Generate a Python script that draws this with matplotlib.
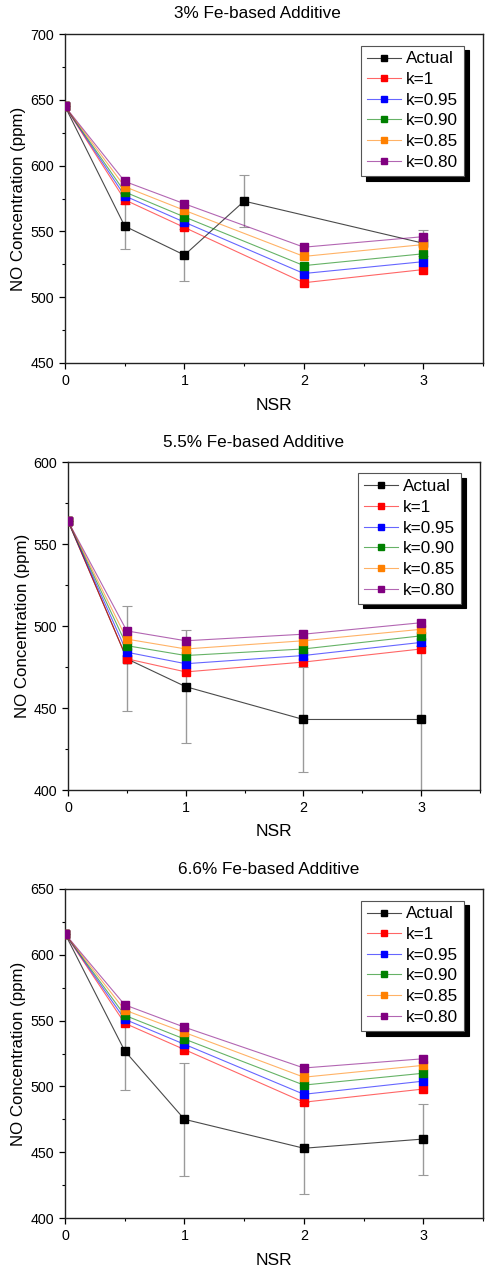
import matplotlib
matplotlib.use("Agg")
import matplotlib.pyplot as plt
from matplotlib.colors import to_rgba
from matplotlib.ticker import MultipleLocator

plt.rcParams["font.family"] = ["Liberation Sans", "DejaVu Sans"]

# NSR positions
nsr_model = [0, 0.5, 1, 2, 3]

# Panel 1: 3% Fe-based additive
p1_actual_x = [0, 0.5, 1, 1.5, 3]
p1_actual = [645, 554, 532, 573, 541]
p1_actual_err = [0, 17, 20, 20, 10]
p1_k100 = [645, 574, 553, 511, 521]
p1_k095 = [645, 577, 557, 518, 527]
p1_k090 = [645, 580, 561, 524, 533]
p1_k085 = [645, 584, 566, 531, 540]
p1_k080 = [645, 588, 571, 538, 546]

# Panel 2: 5.5% Fe-based additive
p2_actual_x = [0, 0.5, 1, 2, 3]
p2_actual = [564, 480, 463, 443, 443]
p2_actual_err = [0, 32, 34.5, 32, 45]
p2_k100 = [564, 480, 472, 478, 486]
p2_k095 = [564, 484, 477, 482, 490]
p2_k090 = [564, 488, 482, 486, 494]
p2_k085 = [564, 492, 486, 491, 498]
p2_k080 = [564, 497, 491, 495, 502]

# Panel 3: 6.6% Fe-based additive
p3_actual_x = [0, 0.5, 1, 2, 3]
p3_actual = [616, 527, 475, 453, 460]
p3_actual_err = [0, 30, 43, 35, 27]
p3_k100 = [616, 548, 528, 488, 498]
p3_k095 = [616, 551, 532, 494, 504]
p3_k090 = [616, 554, 536, 501, 510]
p3_k085 = [616, 558, 541, 507, 516]
p3_k080 = [616, 562, 545, 514, 521]

k_labels = ["k=1", "k=0.95", "k=0.90", "k=0.85", "k=0.80"]
k_colors = ["#ff0000", "#0000ff", "#008000", "#ff8000", "#800080"]

panels = [
    dict(title="3% Fe-based Additive", ax_px=(65, 483, 34, 363), ylim=(450, 700),
         ax_x=p1_actual_x, act=p1_actual, err=p1_actual_err,
         ks=[p1_k100, p1_k095, p1_k090, p1_k085, p1_k080], title_x=257),
    dict(title="5.5% Fe-based Additive", ax_px=(68, 480, 462, 790), ylim=(400, 600),
         ax_x=p2_actual_x, act=p2_actual, err=p2_actual_err,
         ks=[p2_k100, p2_k095, p2_k090, p2_k085, p2_k080], title_x=254),
    dict(title="6.6% Fe-based Additive", ax_px=(65, 483, 889, 1218), ylim=(400, 650),
         ax_x=p3_actual_x, act=p3_actual, err=p3_actual_err,
         ks=[p3_k100, p3_k095, p3_k090, p3_k085, p3_k080], title_x=269),
]

W, H = 486, 1273
fig = plt.figure(figsize=(W / 100, H / 100), dpi=100)

for p in panels:
    l, r, t, b = p["ax_px"]
    ax = fig.add_axes([l / W, 1 - b / H, (r - l) / W, (b - t) / H])

    # error bars first, then the actual line, then model lines on top
    ax.errorbar(p["ax_x"], p["act"], yerr=p["err"], fmt="none", ecolor="#9a9a9a",
                elinewidth=1.0, capsize=3.5, capthick=0.8, zorder=1)
    ax.plot(p["ax_x"], p["act"], color="#4a4a4a", lw=0.8, marker="s", ms=5.5,
            mfc="black", mec="black", label="Actual", zorder=2)
    for vals, lab, c in zip(p["ks"], k_labels, k_colors):
        ax.plot(nsr_model, vals, color=to_rgba(c, 0.6), lw=0.8, marker="s", ms=5.5,
                mfc=c, mec=c, label=lab, zorder=3)

    ax.set_xlim(0, 3.5)
    ax.set_ylim(*p["ylim"])
    ax.set_xticks([0, 1, 2, 3])
    ax.xaxis.set_minor_locator(MultipleLocator(0.5))
    ax.yaxis.set_major_locator(MultipleLocator(50))
    ax.yaxis.set_minor_locator(MultipleLocator(25))
    ax.tick_params(which="major", direction="out", length=4, width=0.9,
                   labelsize=10.3, pad=4)
    ax.tick_params(which="minor", direction="out", length=2.2, width=0.8)
    for s in ax.spines.values():
        s.set_linewidth(1.0)
        s.set_color("#222222")

    ax.set_xlabel("NSR", fontsize=12.5)
    ax.xaxis.set_label_coords(0.5, -0.105)
    ax.set_ylabel("NO Concentration (ppm)", fontsize=12.2)
    ax.yaxis.set_label_coords(-0.093, 0.5)

    ax.text((p["title_x"] - l) / (r - l), 1 + 20 / (b - t), p["title"],
            transform=ax.transAxes, ha="center", va="center", fontsize=12.3)

    leg = ax.legend(loc="upper right", bbox_to_anchor=(0.955, 0.965),
                    fontsize=12.3, frameon=True, fancybox=False,
                    shadow={"color": "black", "alpha": 1, "ox": 3.5, "oy": -3.5},
                    handlelength=2.0, handletextpad=0.3, labelspacing=0.33,
                    borderpad=0.35, borderaxespad=0, markerscale=0.85)
    leg.get_frame().set_edgecolor("#555555")
    leg.get_frame().set_linewidth(0.8)

fig.savefig("out.png", dpi=100)
